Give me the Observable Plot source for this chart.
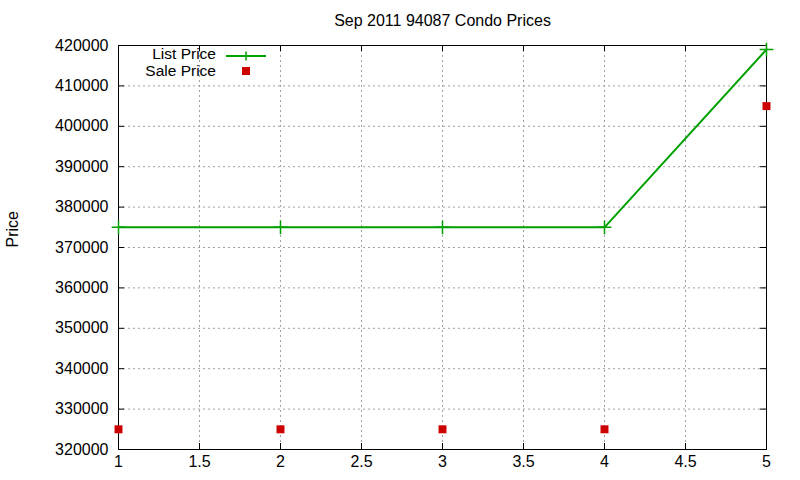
<!DOCTYPE html>
<html>
<head>
<meta charset="utf-8">
<script src="https://cdn.jsdelivr.net/npm/d3@7"></script>
<script src="https://cdn.jsdelivr.net/npm/@observablehq/plot@0.6"></script>
<style>
  html, body { margin: 0; padding: 0; background: white; }
  #wrap { position: relative; width: 800px; height: 480px; font-family: "Liberation Sans", Arial, sans-serif; }
  #legend { position: absolute; left: 0; top: 0; pointer-events: none; }
</style>
</head>
<body>
<div id="wrap"></div>
<script>
const title = "Sep 2011 94087 Condo Prices";
const yLabel = "Price";
const xs = [1, 2, 3, 4, 5];
const listPrice = [375000, 375000, 375000, 375000, 419000];
const salePrice = [325000, 325000, 325000, 325000, 405000];
const xTicks = [1, 1.5, 2, 2.5, 3, 3.5, 4, 4.5, 5];
const yTicks = [320000, 330000, 340000, 350000, 360000, 370000, 380000, 390000, 400000, 410000, 420000];
const seriesNames = ["List Price", "Sale Price"];
const green = "#00a000";
const red = "#cc0000";

const listRows = xs.map((x, i) => ({x, y: listPrice[i]}));
const saleRows = xs.map((x, i) => ({x, y: salePrice[i]}));

const W = 800, H = 480, mL = 118, mR = 34, mT = 45, mB = 31;
const pw = W - mL - mR, ph = H - mT - mB, tick = 6;
const FS = 16;

const chart = Plot.plot({
  width: W, height: H,
  marginLeft: mL, marginRight: mR, marginTop: mT, marginBottom: mB,
  x: {domain: [1, 5]},
  y: {domain: [320000, 420000]},
  style: {fontFamily: "'Liberation Sans', Arial, sans-serif", fontSize: FS + "px", background: "white", color: "black"},
  marks: [
    Plot.gridX(xTicks, {stroke: "#a0a0a0", strokeOpacity: 1, strokeDasharray: "2,3"}),
    Plot.gridY(yTicks, {stroke: "#a0a0a0", strokeOpacity: 1, strokeDasharray: "2,3"}),
    Plot.axisX({ticks: xTicks, tickFormat: d => String(d), tickSize: 0, tickPadding: 6, label: null, fontSize: FS}),
    Plot.axisY({ticks: yTicks, tickFormat: d => String(d), tickSize: 0, tickPadding: 10, label: null, fontSize: FS}),
    Plot.tickY(yTicks, {y: d => d, insetRight: pw - tick, stroke: "black"}),
    Plot.tickY(yTicks, {y: d => d, insetLeft: pw - tick, stroke: "black"}),
    Plot.tickX(xTicks, {x: d => d, insetTop: ph - tick, stroke: "black"}),
    Plot.tickX(xTicks, {x: d => d, insetBottom: ph - tick, stroke: "black"}),
    Plot.frame({stroke: "black", strokeWidth: 1}),
    Plot.line(listRows, {x: "x", y: "y", stroke: green, strokeWidth: 2}),
    Plot.dot(listRows, {x: "x", y: "y", symbol: "plus", r: 4.5, stroke: green, strokeWidth: 1.5}),
    Plot.dot(saleRows, {x: "x", y: "y", symbol: "square", r: 4.5, fill: red, stroke: "none"}),
    Plot.text([title], {frameAnchor: "top", lineAnchor: "middle", dy: -25, fontSize: FS, fill: "black"}),
    Plot.text([yLabel], {frameAnchor: "left", dx: -106, rotate: -90, fontSize: FS, fill: "black"})
  ]
});
document.getElementById("wrap").appendChild(chart);

// Legend overlay
const ns = "http://www.w3.org/2000/svg";
const leg = document.createElementNS(ns, "svg");
leg.setAttribute("id", "legend");
leg.setAttribute("width", W);
leg.setAttribute("height", 100);
const LFS = 15.5;
leg.innerHTML = `
  <text x="216" y="55" text-anchor="end" dominant-baseline="middle" font-family="Liberation Sans, Arial, sans-serif" font-size="${LFS}">${seriesNames[0]}</text>
  <line x1="226" x2="266" y1="56" y2="56" stroke="${green}" stroke-width="2"/>
  <line x1="241.5" x2="250.5" y1="56" y2="56" stroke="${green}" stroke-width="1.5"/>
  <line x1="246" x2="246" y1="51.5" y2="60.5" stroke="${green}" stroke-width="1.5"/>
  <text x="216" y="71.5" text-anchor="end" dominant-baseline="middle" font-family="Liberation Sans, Arial, sans-serif" font-size="${LFS}">${seriesNames[1]}</text>
  <rect x="242" y="67" width="8" height="8" fill="${red}"/>
`;
document.getElementById("wrap").appendChild(leg);
</script>
</body>
</html>
